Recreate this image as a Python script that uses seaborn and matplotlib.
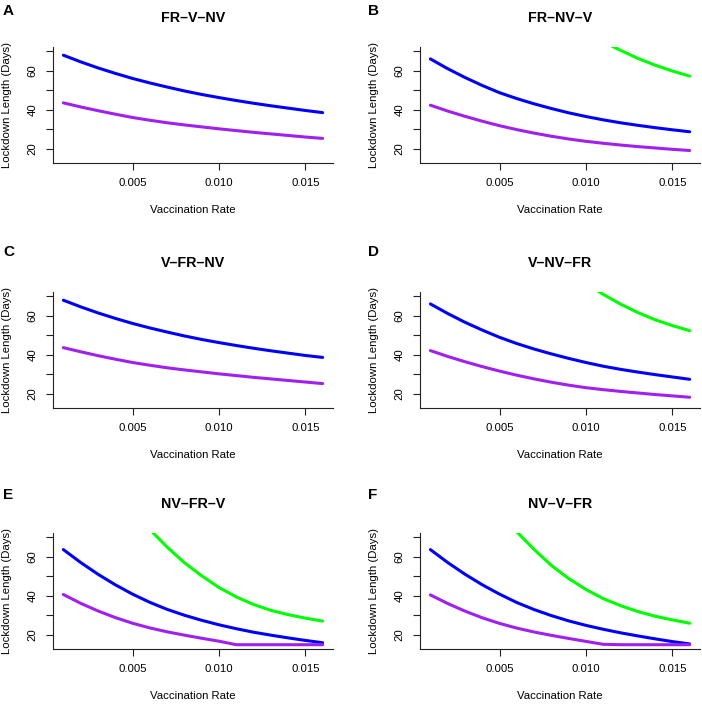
import pandas as pd
import seaborn as sns
import matplotlib
matplotlib.use("Agg")
import matplotlib.pyplot as plt

# vaccination rate grid
rate = [0.001, 0.002, 0.003, 0.004, 0.005, 0.006, 0.007, 0.008,
        0.009, 0.010, 0.011, 0.012, 0.013, 0.014, 0.015, 0.016]

titles = ["FR–V–NV", "FR–NV–V", "V–FR–NV", "V–NV–FR", "NV–FR–V", "NV–V–FR"]
letters = ["A", "B", "C", "D", "E", "F"]

nan = float("nan")

# lockdown length (days)
blue_a = [68.0, 64.6, 61.5, 58.7, 56.1, 53.8, 51.7, 49.7, 47.9, 46.3, 44.8, 43.4, 42.1, 40.9, 39.7, 38.6]
purple_a = [43.6, 41.5, 39.6, 37.8, 36.1, 34.7, 33.4, 32.3, 31.3, 30.3, 29.4, 28.5, 27.7, 26.9, 26.1, 25.4]
green_a = [nan] * 16

blue_b = [66.1, 61.1, 56.6, 52.5, 48.8, 45.8, 43.1, 40.7, 38.5, 36.6, 34.9, 33.4, 32.1, 30.9, 29.8, 28.8]
purple_b = [42.4, 39.4, 36.7, 34.2, 31.9, 29.9, 28.1, 26.5, 25.1, 23.9, 22.9, 22.0, 21.2, 20.5, 19.8, 19.2]
green_b = [nan, nan, nan, nan, nan, nan, nan, nan, nan, nan, 74.8, 70.5, 66.4, 62.9, 59.9, 57.3]

blue_c = [68.0, 64.6, 61.5, 58.7, 56.1, 53.8, 51.7, 49.7, 47.9, 46.3, 44.8, 43.4, 42.1, 40.9, 39.7, 38.7]
purple_c = [43.7, 41.6, 39.6, 37.8, 36.1, 34.7, 33.4, 32.3, 31.3, 30.3, 29.4, 28.5, 27.7, 26.9, 26.1, 25.3]
green_c = [nan] * 16

blue_d = [66.1, 61.2, 56.7, 52.7, 49.0, 45.8, 43.0, 40.5, 38.2, 36.1, 34.2, 32.6, 31.2, 29.9, 28.7, 27.5]
purple_d = [42.2, 39.2, 36.5, 34.0, 31.7, 29.6, 27.7, 26.0, 24.5, 23.2, 22.2, 21.3, 20.5, 19.7, 19.0, 18.3]
green_d = [nan, nan, nan, nan, nan, nan, nan, nan, nan, 76.5, 71.0, 66.0, 61.7, 58.0, 55.0, 52.4]

blue_e = [63.7, 57.1, 51.1, 45.7, 40.9, 36.7, 33.1, 30.1, 27.5, 25.2, 23.2, 21.4, 19.9, 18.5, 17.2, 16.0]
purple_e = [40.7, 36.2, 32.3, 28.9, 26.0, 23.6, 21.6, 19.9, 18.3, 16.8, 15.0, 15.0, 15.0, 15.0, 15.0, 15.0]
green_e = [nan, nan, nan, nan, nan, 74.0, 65.0, 57.0, 50.3, 44.3, 39.5, 35.6, 32.6, 30.4, 28.6, 27.1]

blue_f = [63.7, 57.1, 51.1, 45.7, 40.9, 36.6, 33.0, 29.9, 27.2, 24.9, 22.9, 21.1, 19.5, 18.0, 16.6, 15.4]
purple_f = [40.5, 36.1, 32.2, 28.8, 25.9, 23.5, 21.5, 19.8, 18.2, 16.7, 15.2, 15.0, 15.0, 15.0, 15.0, 15.0]
green_f = [nan, nan, nan, nan, nan, 72.8, 63.8, 55.6, 48.9, 43.3, 38.6, 35.0, 32.0, 29.6, 27.7, 26.0]

series = [
    (blue_a, purple_a, green_a), (blue_b, purple_b, green_b),
    (blue_c, purple_c, green_c), (blue_d, purple_d, green_d),
    (blue_e, purple_e, green_e), (blue_f, purple_f, green_f),
]
colors = ["#0000FF", "#A020F0", "#00FF00"]

sns.set_style("ticks")
plt.rcParams["font.family"] = ["Liberation Sans", "DejaVu Sans"]
plt.rcParams["text.color"] = "black"
plt.rcParams["axes.labelcolor"] = "black"
plt.rcParams["xtick.labelcolor"] = "black"
plt.rcParams["ytick.labelcolor"] = "black"

fig = plt.figure(figsize=(7.02, 7.04), dpi=100)

col_left = [53, 420]
row_top = [47, 292, 533]
W, H = 280, 116

for i in range(6):
    r, c = divmod(i, 2)
    x0 = col_left[c] / 702
    y0 = 1 - (row_top[r] + H) / 704
    ax = fig.add_axes([x0, y0, W / 702, H / 704])

    for vals, col in zip(series[i], colors):
        df = pd.DataFrame({"rate": rate, "days": vals}).dropna()
        if len(df):
            sns.lineplot(data=df, x="rate", y="days", color=col, lw=2.2, ax=ax)

    ax.set_xlim(0.0004, 0.0166)
    ax.set_ylim(12.8, 72.2)
    ax.set_xticks([0.005, 0.010, 0.015])
    ax.set_xticklabels(["0.005", "0.010", "0.015"])
    ax.set_yticks([20, 30, 40, 50, 60, 70])
    ax.set_yticklabels(["20", "", "40", "", "60", ""], rotation=90, va="center")
    ax.tick_params(length=5, width=0.8, color="#222222", labelsize=8.2, pad=6)
    ax.tick_params(axis="y", pad=6)
    for s in ["top", "right"]:
        ax.spines[s].set_visible(False)
    for s in ["left", "bottom"]:
        ax.spines[s].set_color("#222222")
        ax.spines[s].set_linewidth(0.8)

    ax.set_xlabel("Vaccination Rate", fontsize=8.2, va="center")
    ax.set_ylabel("Lockdown Length (Days)", fontsize=8.2, va="center")
    ax.xaxis.set_label_coords(0.5, -47 / H)
    ax.yaxis.set_label_coords(-46 / W, 0.5)

    ax.annotate(titles[i], xy=(0.5, 1), xycoords="axes fraction",
                xytext=(0, 29 * 0.72), textcoords="offset points",
                ha="center", va="center", fontsize=10.3, fontweight="bold")

    lx = [3, 368][c] / 702
    ly = 1 - [11, 252, 495][r] / 704
    fig.text(lx, ly, letters[i], ha="left", va="center", fontsize=11, fontweight="bold")

fig.savefig("out.png", dpi=100)
